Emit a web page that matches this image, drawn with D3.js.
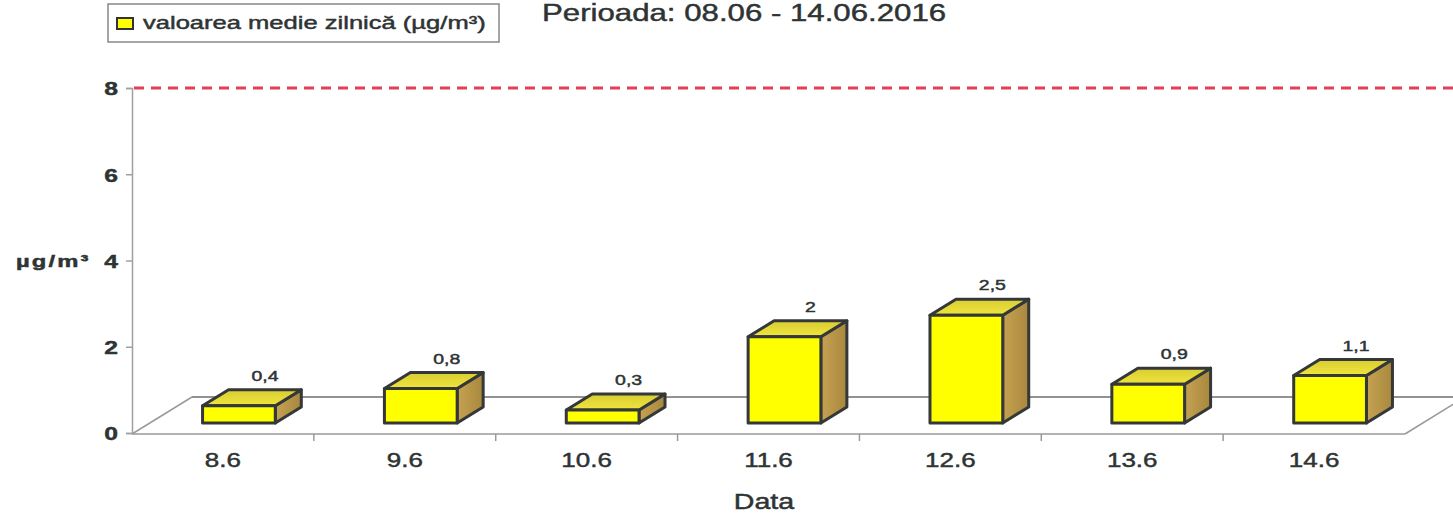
<!DOCTYPE html>
<html>
<head>
<meta charset="utf-8">
<style>
body { margin: 0; background: #fff; }
text { font-family: "Liberation Sans", Arial, sans-serif; fill: #2e3333; stroke: #2e3333; stroke-width: 0.45px; }
</style>
</head>
<body>
<svg width="1453" height="516"></svg>
<script src="https://cdn.jsdelivr.net/npm/d3@7"></script>
<script>

// data
var categories = ["8.6", "9.6", "10.6", "11.6", "12.6", "13.6", "14.6"];
var values = [0.4, 0.8, 0.3, 2, 2.5, 0.9, 1.1];
var valueLabels = ["0,4", "0,8", "0,3", "2", "2,5", "0,9", "1,1"];
var yTicks = [0, 2, 4, 6, 8];
var limitValue = 8;
var seriesName = "valoarea medie zilnică (µg/m³)";
var title = "Perioada: 08.06 - 14.06.2016";

var svg = d3.select("svg"),
    W = +svg.attr("width");

// the scan is stretched sideways, so text gets a horizontal scale
var SX = 1.3;
function place(sel, x, y, sx) {
  return sel.attr("transform", "translate(" + x + "," + y + ") scale(" + (sx || SX) + ",1)");
}

var x = d3.scaleBand().domain(categories).range([132, 1405]);
var y = d3.scaleLinear().domain([0, 8]).range([433, 88]);

// 3d depth: floor depth and where the bars sit in it
var floorDx = 60, floorDy = -37;
var barOff = { dx: 16, dy: -10 };
var barDepth = { dx: 26, dy: -16 };
var barW = x.bandwidth() * 0.4;

var defs = svg.append("defs");
var gTop = defs.append("linearGradient").attr("id", "gtop").attr("x1", 0).attr("y1", 1).attr("x2", 0).attr("y2", 0);
gTop.append("stop").attr("offset", 0).attr("stop-color", "#f0e63a");
gTop.append("stop").attr("offset", 1).attr("stop-color", "#d8cc34");
var gSide = defs.append("linearGradient").attr("id", "gside").attr("x1", 0).attr("y1", 0).attr("x2", 1).attr("y2", 0);
gSide.append("stop").attr("offset", 0).attr("stop-color", "#c6a252");
gSide.append("stop").attr("offset", 1).attr("stop-color", "#a8883e");

var y0 = y(0) + 1;

// floor
var floor = svg.append("g").attr("fill", "none").attr("stroke", "#9a9a9a").attr("stroke-width", 1.5);
floor.append("line").attr("x1", 132).attr("y1", y0).attr("x2", 1405).attr("y2", y0);
floor.append("line").attr("x1", 132).attr("y1", y0).attr("x2", 132 + floorDx).attr("y2", y0 + floorDy);
floor.append("line").attr("x1", 1405).attr("y1", y0).attr("x2", 1405 + floorDx).attr("y2", y0 + floorDy);
floor.append("line").attr("x1", 132 + floorDx).attr("y1", y0 + floorDy).attr("x2", W).attr("y2", y0 + floorDy)
  .attr("stroke", "#6e6e6e");

// category boundary ticks on the front edge
floor.selectAll(".xt")
  .data(categories.slice(1))
  .enter().append("line")
    .attr("x1", function(d) { return x(d); })
    .attr("x2", function(d) { return x(d); })
    .attr("y1", y0)
    .attr("y2", y0 + 7);

// y axis
var yAxis = svg.append("g")
  .attr("transform", "translate(132,0)")
  .call(d3.axisLeft(y).tickValues(yTicks).tickSize(6).tickPadding(8));
yAxis.select(".domain").attr("stroke", "#a0a0a0").attr("stroke-width", 1.5);
yAxis.selectAll(".tick line").attr("stroke", "#a0a0a0").attr("stroke-width", 1.5);
yAxis.selectAll(".tick text").remove();
yAxis.selectAll(".tick").each(function(d) {
  var t = d3.select(this).append("text")
    .attr("text-anchor", "end")
    .attr("dy", "0.36em")
    .style("font-size", "19px")
    .style("font-weight", "bold")
    .text(d);
  place(t, -14, 0);
});

// limit line
svg.append("line")
  .attr("x1", 134).attr("x2", W)
  .attr("y1", y(limitValue)).attr("y2", y(limitValue))
  .attr("stroke", "#e0405a")
  .attr("stroke-width", 3)
  .attr("stroke-dasharray", "10,7");

// bars
var bars = svg.selectAll(".bar")
  .data(values)
  .enter().append("g")
    .attr("class", "bar")
    .attr("stroke", "#343838")
    .attr("stroke-width", 3)
    .attr("stroke-linejoin", "round");

function bx(d, i) { return x(categories[i]) + (x.bandwidth() - barW) / 2 + barOff.dx; }
function byTop(d) { return y(d) + barOff.dy; }
function byBot() { return y(0) + barOff.dy; }

bars.append("polygon")
  .attr("fill", "url(#gside)")
  .attr("points", function(d, i) {
    var x1 = bx(d, i) + barW, t = byTop(d), b = byBot();
    return [[x1, t], [x1 + barDepth.dx, t + barDepth.dy], [x1 + barDepth.dx, b + barDepth.dy], [x1, b]].join(" ");
  });

bars.append("polygon")
  .attr("fill", "url(#gtop)")
  .attr("points", function(d, i) {
    var x0 = bx(d, i), x1 = x0 + barW, t = byTop(d);
    return [[x0, t], [x1, t], [x1 + barDepth.dx, t + barDepth.dy], [x0 + barDepth.dx, t + barDepth.dy]].join(" ");
  });

bars.append("rect")
  .attr("fill", "#ffff00")
  .attr("x", bx)
  .attr("y", byTop)
  .attr("width", barW)
  .attr("height", function(d) { return byBot() - byTop(d); });

// value labels
svg.selectAll(".vl")
  .data(values)
  .enter().append("text")
    .attr("class", "vl")
    .attr("text-anchor", "middle")
    .style("font-size", "15px")
    .text(function(d, i) { return valueLabels[i]; })
    .each(function(d, i) {
      place(d3.select(this), bx(d, i) + barW / 2 + barDepth.dx, byTop(d) + barDepth.dy - 9);
    });

// category labels
svg.selectAll(".xl")
  .data(categories)
  .enter().append("text")
    .attr("class", "xl")
    .attr("text-anchor", "middle")
    .style("font-size", "20px")
    .text(function(d) { return d; })
    .each(function(d) {
      place(d3.select(this), x(d) + x.bandwidth() / 2, 467);
    });

// axis titles
place(svg.append("text").attr("text-anchor", "middle").style("font-size", "22px").text("Data"), 764, 509);
place(svg.append("text").style("font-size", "17px").style("font-weight", "bold")
  .style("letter-spacing", "1.5px").text("µg/m³"), 16, 267, 1.4);

// title
place(svg.append("text").style("font-size", "24px").text(title), 542, 21);

// legend
var legend = svg.append("g");
legend.append("rect")
  .attr("x", 108).attr("y", 4).attr("width", 391).attr("height", 38)
  .attr("fill", "#fff").attr("stroke", "#888").attr("stroke-width", 1.5);
legend.append("rect")
  .attr("x", 117).attr("y", 18).attr("width", 16).attr("height", 11)
  .attr("fill", "#ffff00").attr("stroke", "#333").attr("stroke-width", 2);
place(legend.append("text").style("font-size", "18px").text(seriesName), 143, 29, 1.42);

</script>
</body>
</html>
